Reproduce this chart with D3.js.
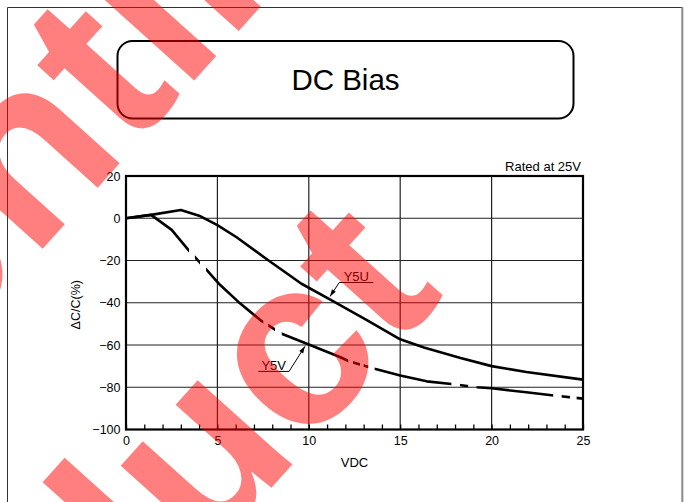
<!DOCTYPE html>
<html>
<head>
<meta charset="utf-8">
<script src="https://cdn.jsdelivr.net/npm/d3@7"></script>
<style>
  body { margin: 0; background: #fff; }
  svg text { font-family: "Liberation Sans", Arial, Helvetica, sans-serif; fill: #000; }
</style>
</head>
<body>
<div id="chart"></div>
<script>
// voltage (VDC) / capacitance change (%)
const y5uVolts = [0, 1.37, 3.0, 4.0, 5.0, 6.05, 7.8, 9.6, 11.2, 13.2, 15.0, 16.3, 18.3, 20.0, 21.9, 25];
const y5uDelta = [0, 1.6, 3.9, 1.2, -3.3, -9, -20, -31, -38.6, -48.3, -57.3, -61.2, -66.1, -70, -72.8, -76.4];

const y5vVolts = [0, 1.37, 2.5, 3.42, 4.41, 5.14, 6.15, 7.35, 8.45, 10.0, 11.7, 12.2, 13.6, 15.0, 16.45, 17.8, 19.2, 20.0, 21.9, 23.4, 25];
const y5vDelta = [0, 1.6, -5.5, -15.1, -24.4, -31.5, -39.6, -48.2, -54.4, -59.8, -65.7, -67.7, -71.2, -74.4, -77.2, -78.5, -80, -80.5, -82.4, -83.9, -85.4];
// pieces of the Y5V curve left blank (chain-dash look), in VDC
const y5vGaps = [[3.45, 3.77], [4.05, 4.38], [7.51, 7.78], [8.15, 8.52], [12.16, 12.42], [12.8, 13.0],
                 [13.25, 13.6], [17.8, 18.27], [18.72, 19.18], [23.37, 23.83], [24.29, 24.65]];

const xTicks = [0, 5, 10, 15, 20, 25];
const yTicks = [-100, -80, -60, -40, -20, 0, 20];

const width = 686, height = 502;

const svg = d3.select("#chart")
    .append("svg")
    .attr("width", width)
    .attr("height", height);

// page frame
svg.append("line").attr("x1", 7.5).attr("y1", 7.5).attr("x2", 682).attr("y2", 7.5)
    .attr("stroke", "#333").attr("stroke-width", 1);
svg.append("line").attr("x1", 7.5).attr("y1", 7.5).attr("x2", 7.5).attr("y2", height)
    .attr("stroke", "#333").attr("stroke-width", 1);
svg.append("line").attr("x1", 682.3).attr("y1", 7).attr("x2", 682.3).attr("y2", height)
    .attr("stroke", "#8a8a8a").attr("stroke-width", 2);

// title box
svg.append("rect")
    .attr("x", 117.5).attr("y", 41).attr("width", 456).attr("height", 77.5)
    .attr("rx", 15).attr("ry", 15)
    .attr("fill", "none").attr("stroke", "#000").attr("stroke-width", 2);
svg.append("text")
    .attr("x", 345.5).attr("y", 90)
    .attr("text-anchor", "middle")
    .style("font-size", "29.5px")
    .text("DC Bias");

const x = d3.scaleLinear().domain([0, 25]).range([126, 583]);
const y = d3.scaleLinear().domain([-100, 20]).range([429.5, 176]);

const g = svg.append("g");

// grid
g.selectAll("line.vgrid")
    .data(xTicks.slice(1, -1))
    .enter()
    .append("line")
    .attr("class", "vgrid")
    .attr("x1", d => x(d)).attr("x2", d => x(d))
    .attr("y1", y(20)).attr("y2", y(-100))
    .attr("stroke", "#222").attr("stroke-width", 1.2);

g.selectAll("line.hgrid")
    .data(yTicks.slice(1, -1))
    .enter()
    .append("line")
    .attr("class", "hgrid")
    .attr("x1", x(0)).attr("x2", x(25))
    .attr("y1", d => y(d)).attr("y2", d => y(d))
    .attr("stroke", "#222").attr("stroke-width", 1.2);

// minor ticks along the bottom, pointing inward
const minor = g.append("g")
    .attr("transform", `translate(0,${y(-100)})`)
    .call(d3.axisBottom(x).tickValues(d3.range(0, 26)).tickSize(-5).tickFormat(""));
minor.select(".domain").remove();
minor.selectAll("line").attr("stroke", "#000").attr("stroke-width", 1.3);

// tick labels
const xAxis = g.append("g")
    .attr("transform", `translate(0,${y(-100)})`)
    .call(d3.axisBottom(x).tickValues(xTicks).tickSize(0).tickPadding(7));
xAxis.select(".domain").remove();
xAxis.selectAll("text").style("font-size", "12.5px").attr("fill", "#000");

const yAxis = g.append("g")
    .attr("transform", `translate(${x(0)},0)`)
    .call(d3.axisLeft(y).tickValues(yTicks).tickSize(0).tickPadding(5.5));
yAxis.select(".domain").remove();
yAxis.selectAll("text").style("font-size", "12.5px").attr("fill", "#000");

// plot frame
g.append("rect")
    .attr("x", x(0)).attr("y", y(20))
    .attr("width", x(25) - x(0)).attr("height", y(-100) - y(20))
    .attr("fill", "none").attr("stroke", "#000").attr("stroke-width", 2.2);

// axis titles
svg.append("text")
    .attr("x", x(12.5)).attr("y", 467)
    .attr("text-anchor", "middle")
    .style("font-size", "13px")
    .text("VDC");

svg.append("text")
    .attr("transform", `translate(80,${(y(20) + y(-100)) / 2 + 2}) rotate(-90)`)
    .attr("text-anchor", "middle")
    .style("font-size", "12.5px")
    .text("ΔC/C(%)");

svg.append("text")
    .attr("x", 581).attr("y", 171)
    .attr("text-anchor", "end")
    .style("font-size", "13px")
    .text("Rated at 25V");

// curves
const line = d3.line()
    .x(d => x(d[0]))
    .y(d => y(d[1]));

const y5u = d3.zip(y5uVolts, y5uDelta);
const y5v = d3.zip(y5vVolts, y5vDelta);

// clip that leaves out the gaps of the Y5V line
const solidParts = [];
let from = 0;
y5vGaps.forEach(gp => {
    solidParts.push([from, gp[0]]);
    from = gp[1];
});
solidParts.push([from, 25.5]);

const clip = svg.append("defs").append("clipPath").attr("id", "y5v-clip");
clip.selectAll("rect")
    .data(solidParts)
    .enter()
    .append("rect")
    .attr("x", d => x(d[0]))
    .attr("width", d => x(d[1]) - x(d[0]))
    .attr("y", y(25)).attr("height", y(-105) - y(25));

g.append("path")
    .datum(y5u)
    .attr("d", line)
    .attr("fill", "none")
    .attr("stroke", "#000")
    .attr("stroke-width", 2.6)
    .attr("stroke-linejoin", "round");

g.append("path")
    .datum(y5v)
    .attr("d", line)
    .attr("clip-path", "url(#y5v-clip)")
    .attr("fill", "none")
    .attr("stroke", "#000")
    .attr("stroke-width", 2.6)
    .attr("stroke-linejoin", "round");

// curve labels with leader arrows
const labels = [
    { name: "Y5U", tip: [11.16, -37.0], elbow: [11.67, -30.4], end: [13.53, -30.4] },
    { name: "Y5V", tip: [9.79, -60.6], elbow: [8.92, -72.5], end: [7.24, -72.5] }
];

labels.forEach(lb => {
    const tx = x(lb.tip[0]), ty = y(lb.tip[1]);
    const ex = x(lb.elbow[0]), ey = y(lb.elbow[1]);
    g.append("path")
        .attr("d", `M${x(lb.end[0])},${ey}L${ex},${ey}L${tx},${ty}`)
        .attr("fill", "none")
        .attr("stroke", "#000")
        .attr("stroke-width", 1);
    // arrow head
    const ang = Math.atan2(ty - ey, tx - ex);
    const len = 7, half = 2.3;
    const bx = tx - len * Math.cos(ang), by = ty - len * Math.sin(ang);
    const px = -Math.sin(ang) * half, py = Math.cos(ang) * half;
    g.append("path")
        .attr("d", `M${tx},${ty}L${bx + px},${by + py}L${bx - px},${by - py}Z`)
        .attr("fill", "#000");
    g.append("text")
        .attr("x", (x(lb.end[0]) + ex) / 2)
        .attr("y", ey - 1.5)
        .attr("text-anchor", "middle")
        .style("font-size", "13px")
        .text(lb.name);
});

// watermark over everything
const wm = svg.append("g")
    .attr("transform", "translate(446,294) rotate(-48)")
    .style("pointer-events", "none");
const line2 = wm.append("text")
    .attr("x", 0).attr("y", 0)
    .attr("text-anchor", "end")
    .style("font-size", "240px")
    .style("font-weight", "bold")
    .style("fill", "#ff0000")
    .style("fill-opacity", 0.5)
    .text("Product");
const w2 = line2.node().getComputedTextLength();
wm.append("text")
    .attr("x", -w2).attr("y", -330)
    .attr("text-anchor", "start")
    .style("font-size", "240px")
    .style("font-weight", "bold")
    .style("fill", "#ff0000")
    .style("fill-opacity", 0.5)
    .text("Discontinued");
</script>
</body>
</html>
